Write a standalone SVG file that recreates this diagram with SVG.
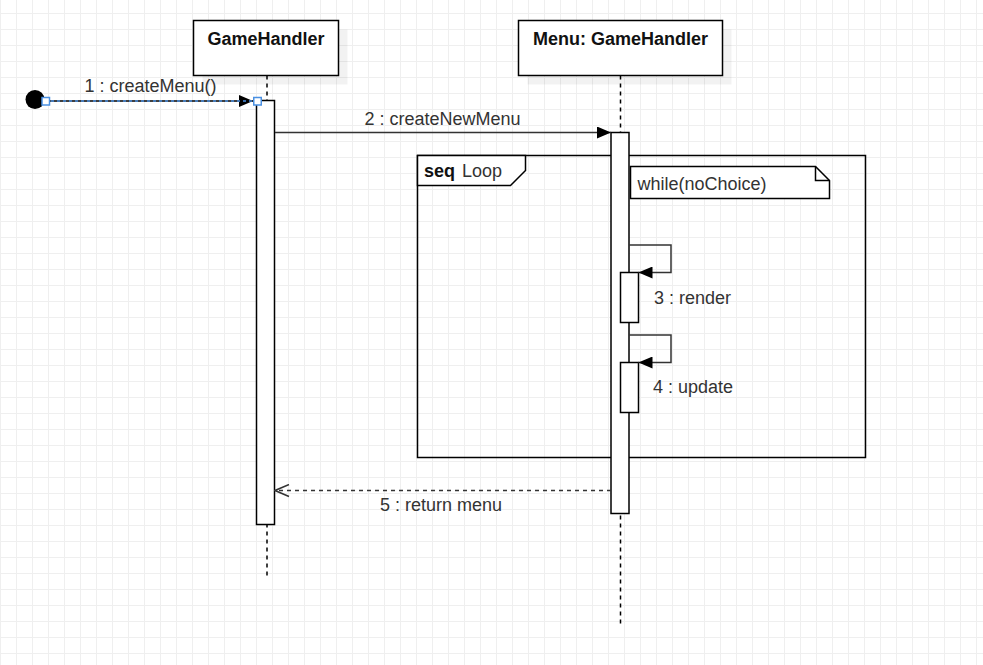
<svg xmlns="http://www.w3.org/2000/svg" width="983" height="665" viewBox="0 0 983 665">
<style>
.box{fill:#fff;stroke:#000;stroke-width:1.5}
.shadow{fill:#000;fill-opacity:0.05;stroke:none}
.life{stroke:#000;stroke-width:1.5;stroke-dasharray:4 4;fill:none}
.act{fill:#fff;stroke:#000;stroke-width:1.5}
.msg{stroke:#333;stroke-width:1.5;fill:none}
.ret{stroke:#333;stroke-width:1.5;fill:none;stroke-dasharray:4 4}
.title{font-family:"Liberation Sans",Arial,sans-serif;font-size:18px;font-weight:bold;fill:#111;text-anchor:middle}
.lbl{font-family:"Liberation Sans",Arial,sans-serif;font-size:18px;fill:#333}
.handle{fill:#fff;stroke:#4a90e2;stroke-width:1.5}
</style>
<defs>
<pattern id="grid" width="16" height="16" x="0" y="13" patternUnits="userSpaceOnUse">
<path d="M0 0.5H16M0.5 0V16" stroke="#efefef" stroke-width="1" fill="none"/>
</pattern>
<marker id="filled" viewBox="0 0 14 12" refX="14" refY="6" markerWidth="14" markerHeight="12" markerUnits="userSpaceOnUse" orient="auto">
<path d="M0,0 L14,6 L0,12 z" fill="#000"/>
</marker>
<marker id="open" viewBox="-1 -1 16 14" refX="14" refY="6" markerWidth="16" markerHeight="14" markerUnits="userSpaceOnUse" orient="auto">
<path d="M0,0 L14,6 L0,12" fill="none" stroke="#333" stroke-width="1.5"/>
</marker>
</defs>
<rect width="983" height="665" fill="#fff"/>
<rect width="983" height="665" fill="url(#grid)"/>

<g id="frame-loop">
<rect x="417.5" y="155.5" width="448" height="302" fill="none" stroke="#000" stroke-width="1.5"/>
<path d="M417.5,155.5 H525.5 V170.5 L510.5,185.5 H417.5 Z" fill="#fff" stroke="#000" stroke-width="1.5"/>
<text x="424" y="176.5" class="lbl" style="font-weight:bold;fill:#111">seq</text>
<text x="462" y="176.5" class="lbl">Loop</text>
</g>

<g id="lifeline-gamehandler">
<rect class="shadow" x="202.5" y="29.5" width="145" height="55"/>
<rect class="box" x="193.5" y="20.5" width="145" height="55"/>
<text x="266" y="45" class="title">GameHandler</text>
<line class="life" x1="267" y1="75.5" x2="267" y2="577"/>
</g>

<g id="lifeline-menu">
<rect class="shadow" x="527.5" y="29.5" width="204" height="55"/>
<rect class="box" x="518.5" y="20.5" width="204" height="55"/>
<text x="620.5" y="45" class="title">Menu: GameHandler</text>
<line class="life" x1="620.5" y1="75.5" x2="620.5" y2="626"/>
</g>

<g id="activation-gamehandler">
<rect class="act" x="256.5" y="100.5" width="18" height="424"/>
</g>

<g id="activation-menu">
<rect class="act" x="611" y="132.5" width="18" height="381"/>
</g>

<g id="note-while">
<path d="M630.5,166.5 H815.5 L829.5,180.5 V198.5 H630.5 Z" fill="#fff" stroke="#000" stroke-width="1.5"/>
<path d="M815.5,166.5 V180.5 H829.5" fill="none" stroke="#000" stroke-width="1.5"/>
<text x="637.5" y="190" class="lbl">while(noChoice)</text>
</g>

<g id="activation-render">
<rect class="act" x="620.5" y="272.5" width="18" height="50"/>
</g>

<g id="activation-update">
<rect class="act" x="620.5" y="362.5" width="18" height="50"/>
</g>

<g id="start-node">
<circle cx="35" cy="99.5" r="9.5" fill="#000"/>
</g>

<g id="connectors">
<line x1="45" y1="101" x2="253" y2="101" stroke="#000" stroke-width="1.5" marker-end="url(#filled)"/>
<line x1="45" y1="101" x2="253" y2="101" stroke="#4a90e2" stroke-width="1.5" stroke-dasharray="3 3"/>
<rect class="handle" x="42" y="97.5" width="7.5" height="7.5"/>
<rect class="handle" x="253.75" y="97.5" width="7.5" height="7.5"/>
<text x="150.5" y="92" class="lbl" text-anchor="middle">1 : createMenu()</text>

<line class="msg" x1="275" y1="132.5" x2="611" y2="132.5" marker-end="url(#filled)"/>
<text x="442.5" y="125" class="lbl" text-anchor="middle">2 : createNewMenu</text>

<path class="msg" d="M629,245 H671 V272.5 H638.5" marker-end="url(#filled)"/>
<text x="654" y="304" class="lbl">3 : render</text>

<path class="msg" d="M629,335 H671 V362.5 H638.5" marker-end="url(#filled)"/>
<text x="653" y="393" class="lbl">4 : update</text>

<line class="ret" x1="611" y1="490.5" x2="275" y2="490.5" marker-end="url(#open)"/>
<text x="441" y="511" class="lbl" text-anchor="middle">5 : return menu</text>
</g>
</svg>
